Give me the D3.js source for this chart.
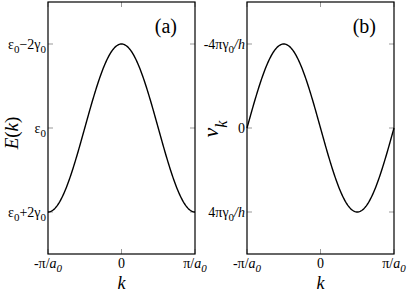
<!DOCTYPE html>
<html lang="en">
<head>
  <meta charset="UTF-8" />
  <title>d3</title>
  <style>
    body { margin: 0; background: #fff; }
    svg text { font-family: "Liberation Serif", "Times New Roman", Times, "DejaVu Serif", serif; fill: #000; }
  </style>
</head>
<body>
  <div id="container"></div>
  <script src="https://cdn.jsdelivr.net/npm/d3@7"></script>
  <script>
    // k in units of pi/a0, sampled across the Brillouin zone
    const kValues = d3.range(-1, 1.0001, 0.01);
    const xTicks = [-1, 0, 1];
    const yTicks = [1, 0, -1];
    // band energy (a) and group velocity (b), normalised
    const energy = kValues.map(k => Math.cos(Math.PI * k));
    const velocity = kValues.map(k => -Math.sin(Math.PI * k));

    const W = 409, H = 297;
    const svg = d3.select('#container').append('svg')
      .attr('width', W).attr('height', H)
      .attr('font-family', '"Liberation Serif", "Times New Roman", serif');

    const panels = [
      { left: 48, right: 195, data: energy, tag: '(a)',
        yLabels: [['ε', '0', '−2γ', '0'], ['ε', '0'], ['ε', '0', '+2γ', '0']] },
      { left: 247, right: 394, data: velocity, tag: '(b)',
        yLabels: [['-4πγ', '0', '/h'], ['0'], ['4πγ', '0', '/h']] }
    ];
    const plotTop = 2, plotBottom = 254;

    panels.forEach((p, pi) => {
      const x = d3.scaleLinear().domain([-1, 1]).range([p.left, p.right]);
      const y = d3.scaleLinear().domain([-1.5, 1.5]).range([plotBottom, plotTop]);
      const g = svg.append('g');

      // inner ticks on all sides
      const tk = 5;
      xTicks.forEach(t => {
        g.append('line').attr('x1', x(t)).attr('x2', x(t)).attr('y1', plotBottom).attr('y2', plotBottom - tk)
          .attr('stroke', '#999').attr('stroke-width', 1);
        g.append('line').attr('x1', x(t)).attr('x2', x(t)).attr('y1', plotTop).attr('y2', plotTop + tk)
          .attr('stroke', '#999').attr('stroke-width', 1);
      });
      yTicks.forEach(t => {
        g.append('line').attr('x1', p.left).attr('x2', p.left + tk).attr('y1', y(t)).attr('y2', y(t))
          .attr('stroke', '#999').attr('stroke-width', 1);
        g.append('line').attr('x1', p.right).attr('x2', p.right - tk).attr('y1', y(t)).attr('y2', y(t))
          .attr('stroke', '#999').attr('stroke-width', 1);
      });

      g.append('rect').attr('x', p.left).attr('y', plotTop)
        .attr('width', p.right - p.left).attr('height', plotBottom - plotTop)
        .attr('fill', 'none').attr('stroke', '#000').attr('stroke-width', 1.2);

      const line = d3.line().x((d, i) => x(kValues[i])).y(d => y(d));
      g.append('path').datum(p.data).attr('d', line)
        .attr('fill', 'none').attr('stroke', '#000').attr('stroke-width', 1.4);

      // x tick labels
      xTicks.forEach(t => {
        const tx = g.append('text').attr('x', x(t)).attr('y', 268)
          .attr('text-anchor', 'middle').attr('font-size', 14);
        if (t === 0) { tx.text('0'); return; }
        tx.append('tspan').text(t < 0 ? '-π/' : 'π/');
        tx.append('tspan').attr('font-style', 'italic').text('a');
        tx.append('tspan').attr('font-style', 'italic').attr('font-size', 11).attr('dy', 4).text('0');
      });
      g.append('text').attr('x', (p.left + p.right) / 2).attr('y', 289)
        .attr('text-anchor', 'middle').attr('font-size', 18).attr('font-style', 'italic').text('k');

      // y tick labels
      yTicks.forEach((t, i) => {
        const parts = p.yLabels[i];
        const tx = g.append('text').attr('x', p.left - 2).attr('y', y(t) + 5)
          .attr('text-anchor', 'end').attr('font-size', 14);
        parts.forEach((s, j) => {
          const sub = s === '0' && parts.length > 1;
          const ts = tx.append('tspan').text(s);
          if (sub) ts.attr('font-size', 11).attr('dy', 4);
          else if (j > 0) ts.attr('dy', -4);
          if (pi === 1 && s === '/h') ts.attr('font-style', 'italic');
        });
      });

      g.append('text').attr('x', p.right - 18).attr('y', 33)
        .attr('text-anchor', 'end').attr('font-size', 20).text(p.tag);
    });

    // y axis titles
    const ea = svg.append('text').attr('transform', 'translate(18,133) rotate(-90)')
      .attr('text-anchor', 'middle').attr('font-size', 19).attr('font-style', 'italic');
    ea.append('tspan').text('E');
    ea.append('tspan').attr('font-style', 'normal').text('(');
    ea.append('tspan').text('k');
    ea.append('tspan').attr('font-style', 'normal').text(')');

    const vb = svg.append('text').attr('transform', 'translate(218,129) rotate(-90)')
      .attr('text-anchor', 'middle').attr('font-size', 22).attr('font-style', 'italic');
    vb.append('tspan').text('ν');
    vb.append('tspan').attr('font-size', 16).attr('dy', 9).text('k');
  </script>
</body>
</html>
